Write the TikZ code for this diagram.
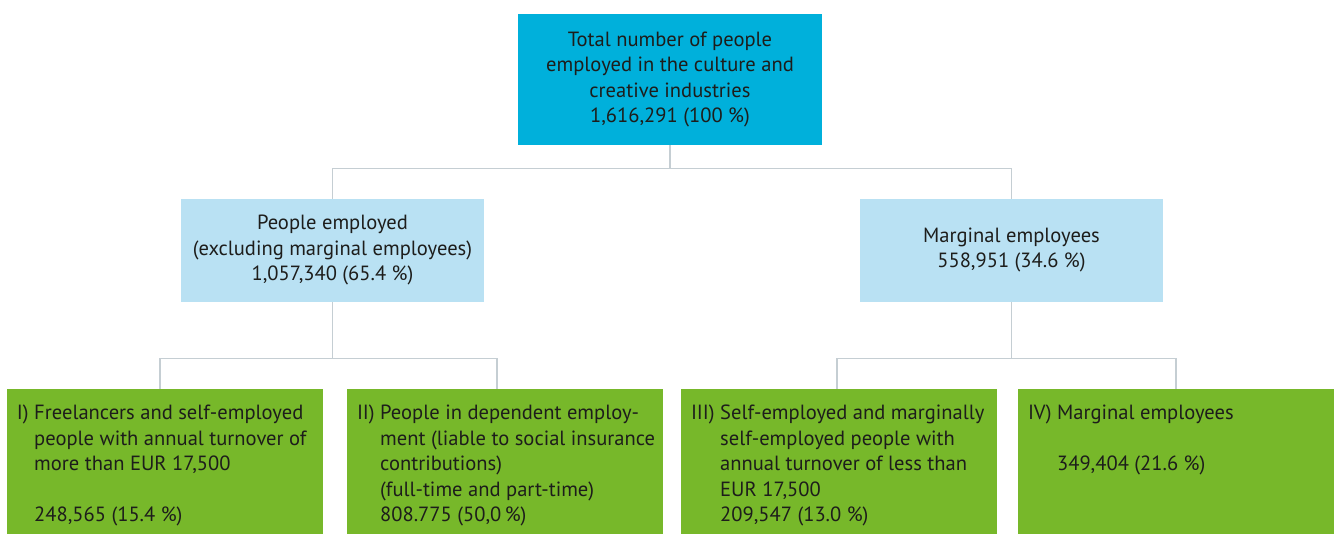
\documentclass[tikz,border=0pt]{standalone}
\usepackage{fontspec}
\setmainfont{PT Sans}
\definecolor{topblue}{RGB}{0,176,219}
\definecolor{midblue}{RGB}{185,225,243}
\definecolor{leafgreen}{RGB}{119,184,42}
\definecolor{linegray}{RGB}{197,206,211}
\definecolor{inkdark}{RGB}{29,29,27}
\newcommand{\leaftext}[1]{\parbox[c][2.9cm][t]{6.32cm}{\vspace*{0.26cm}\hspace*{0.2cm}\begin{tabular}[t]{@{}l@{\ }l@{}}#1\end{tabular}}}
\begin{document}
\begin{tikzpicture}[
    font=\fontsize{11.7}{14.5}\selectfont, text=inkdark,
    conn/.style={draw=linegray, line width=0.8pt},
    rootbox/.style={fill=topblue, minimum width=6.08cm, minimum height=2.62cm, align=center, inner sep=0pt},
    groupbox/.style={fill=midblue, minimum width=6.06cm, minimum height=2.06cm, align=center, inner sep=0pt},
    leafbox/.style={fill=leafgreen, inner sep=0pt}]
  \useasboundingbox (0, 0) rectangle (26.76, -10.68);

  % top level
  \node[rootbox] (total) at (13.40, -1.59) {Total number of people\\employed in the culture and\\creative industries\\1,616,291 (100 \%)};

  % second level
  \node[groupbox] (employed) at (6.65, -5.01) {People employed\\(excluding marginal employees)\\1,057,340 (65.4 \%)\\[-0.4cm]};
  \node[groupbox] (marginal) at (20.23, -5.01) {Marginal employees\\558,951 (34.6 \%)\\[-0.4cm]};

  % third level
  \node[leafbox] (freelance) at (3.30, -9.23) {\leaftext{I) & Freelancers and self-employed\\ & people with annual turnover of\\ & more than EUR 17,500\\ & \\ & 248,565 (15.4 \%)}};
  \node[leafbox] (dependent) at (10.10, -9.23) {\leaftext{II) & People in dependent employ-\\ & ment (liable to social insurance\\ & contributions)\\ & (full-time and part-time)\\ & 808.775 (50,0\,\%)}};
  \node[leafbox] (selfmarg) at (16.78, -9.23) {\leaftext{III) & Self-employed and marginally\\ & self-employed people with\\ & annual turnover of less than\\ & EUR 17,500\\ & 209,547 (13.0 \%)}};
  \node[leafbox] (margemp) at (23.52, -9.23) {\leaftext{IV) & Marginal employees\\ & \\ & 349,404 (21.6 \%)}};

  % connectors
  \draw[conn] (total.south) -- ++(0, -0.46) coordinate (split1);
  \draw[conn] (employed.north) |- (split1) -| (marginal.north);
  \draw[conn] (employed.south) -- ++(0, -1.12) coordinate (split2);
  \draw[conn] ([xshift=-0.1cm]freelance.north) |- (split2) -| ([xshift=-0.16cm]dependent.north);
  \draw[conn] (marginal.south) -- ++(0, -1.12) coordinate (split3);
  \draw[conn] ([xshift=-0.04cm]selfmarg.north) |- (split3) -| (margemp.north);
\end{tikzpicture}
\end{document}
